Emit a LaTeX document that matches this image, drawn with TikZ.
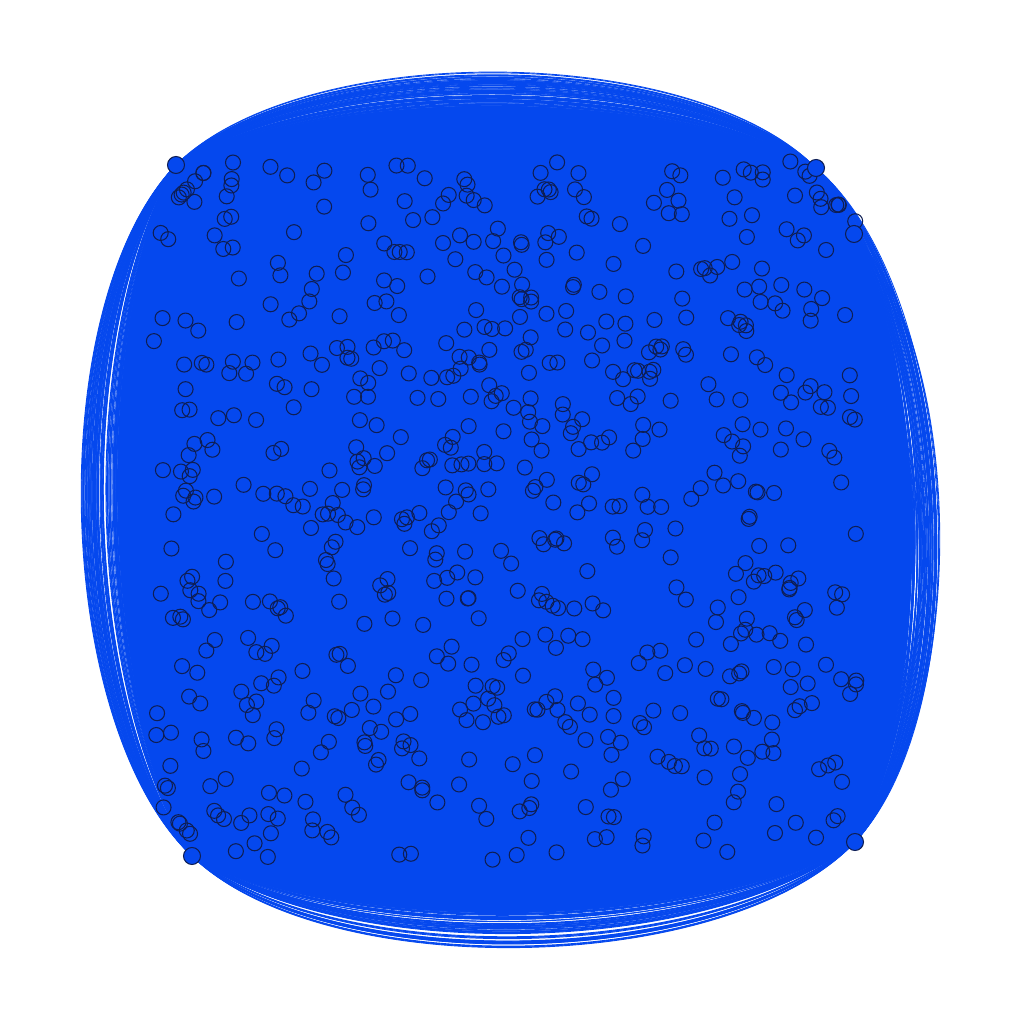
\documentclass[tikz,border=0pt]{standalone}
\definecolor{netblue}{RGB}{5,72,238}
\definecolor{ringnavy}{RGB}{14,30,84}
\begin{document}
\begin{tikzpicture}[x=0.1mm, y=0.1mm,
    vtx/.style={circle, draw=ringnavy, line width=0.3pt, inner sep=0pt, minimum size=1.5mm},
    hub/.style={vtx, fill=netblue, minimum size=1.7mm},
    link/.style={netblue, line width=0.25pt, looseness=0.71}]
    \useasboundingbox (0,0) rectangle (1024,1024);

    % hub positions
    \coordinate (tlc) at (176,859);
    \coordinate (trc) at (816,856);
    \coordinate (tr2c) at (854,790);
    \coordinate (brc) at (855,182);
    \coordinate (blc) at (192,168);

    % dense core of the edges
    \fill[netblue, looseness=0.71] (tlc) to[bend left=27] (trc) to[bend left=8] (tr2c)
        to[bend left=27] (brc) to[bend left=27] (blc) to[bend left=27] (tlc) -- cycle;

    % outer fringe of bent edges
    \pgfmathsetseed{7}
    \foreach \k in {1,...,120} {
        \pgfmathsetmacro\ba{24+21.5*rnd^1.6}
        \pgfmathsetmacro\bb{24+21.5*rnd^1.6}
        \pgfmathsetmacro\bc{24+22*rnd^1.6}
        \pgfmathsetmacro\bd{24+22.5*rnd^1.6}
        \draw[link] (tlc) to[bend left=\ba] (trc);
        \draw[link] (blc) to[bend left=\bb] (tlc);
        \draw[link] (brc) to[bend left=\bc] (blc);
        \draw[link] (trc) to[bend left=\bd] (brc);
    }
    \foreach \k in {1,...,40} {
        \pgfmathsetmacro\be{22+22*rnd^1.6}
        \draw[link] (tr2c) to[bend left=\be] (brc);
    }

    % vertices
    \pgfmathsetseed{42}
    \foreach \i in {1,...,720} {
        \pgfmathsetmacro\u{rand}
        \pgfmathsetmacro\v{rand}
        \pgfmathsetmacro\s{min(1,1.82/(abs(\u)+abs(\v)+0.0001))}
        \node[vtx] (v\i) at ({505+352*\u*\s},{514+350*\v*\s}) {};
    }

    % hubs
    \node[hub] (tl) at (tlc) {};
    \node[hub] (tr) at (trc) {};
    \node[hub] (tr2) at (tr2c) {};
    \node[hub] (br) at (brc) {};
    \node[hub] (bl) at (blc) {};
\end{tikzpicture}
\end{document}
